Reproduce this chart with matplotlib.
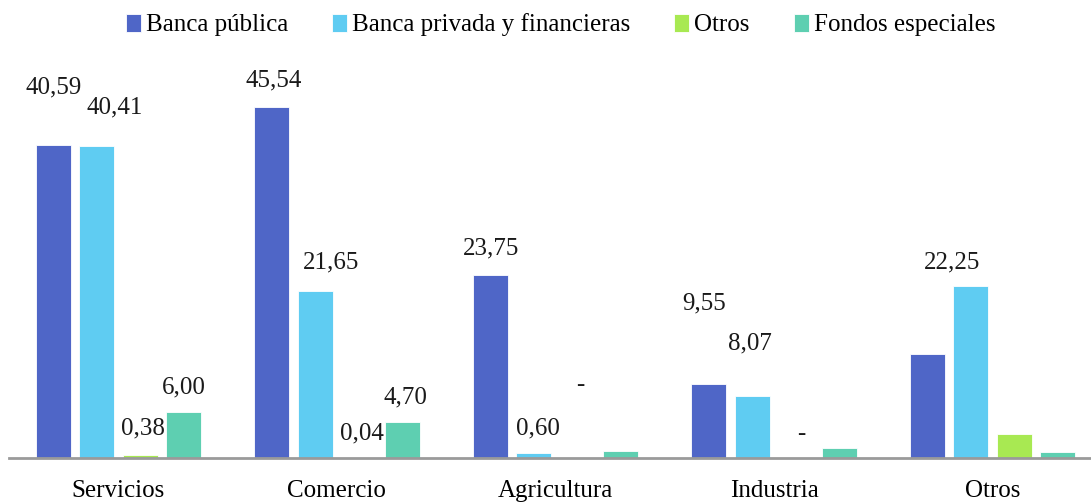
import matplotlib.pyplot as plt
import numpy as np

categories = ["Servicios", "Comercio", "Agricultura", "Industria", "Otros"]
series_names = ["Banca pública", "Banca privada y financieras", "Otros", "Fondos especiales"]

banca_publica = [40.59, 45.54, 23.75, 9.55, 13.5]
banca_privada = [40.41, 21.65, 0.60, 8.07, 22.25]
otros = [0.38, 0.04, 0.0, 0.0, 3.1]
fondos_especiales = [6.00, 4.70, 0.9, 1.3, 0.8]

labels_publica = ["40,59", "45,54", "23,75", "9,55", None]
labels_privada = ["40,41", "21,65", "0,60", "8,07", "22,25"]
labels_otros = ["0,38", "0,04", "-", "-", None]
labels_fondos = ["6,00", "4,70", None, None, None]

# label placement, as in the source: (x shift in px, height in data units)
place_publica = [(1, 48.1), (2, 49.0), (1, 27.2), (-5, 20.1), None]
place_privada = [(18, 45.5), (16, 25.3), (4, 3.8), (-2, 14.9), (-19, 25.4)]
place_otros = [(3, 3.8), (3, 3.2), (3, 9.5), (5, 3.1), None]
place_fondos = [(0, 9.2), (3, 7.9), None, None, None]

colors = ["#4F66C7", "#5FCCF2", "#A8E952", "#5ECFB1"]

plt.rcParams["font.family"] = ["Liberation Serif", "DejaVu Serif"]

fig = plt.figure(figsize=(10.91, 5.04), dpi=100)
ax = fig.add_axes([9 / 1091, 46 / 504, 1082 / 1091, 385.5 / 504])

x = np.arange(len(categories))
step = 0.199
width = 0.16
values = [banca_publica, banca_privada, otros, fondos_especiales]
labels = [labels_publica, labels_privada, labels_otros, labels_fondos]
places = [place_publica, place_privada, place_otros, place_fondos]

for i, (vals, name, color) in enumerate(zip(values, series_names, colors)):
    xs = x + (i - 1.5) * step
    ax.bar(xs, vals, width, color=color, label=name, edgecolor="white", linewidth=0.6)
    for xi, lab, pl in zip(xs, labels[i], places[i]):
        if lab is None:
            continue
        dx, y = pl
        ax.annotate(lab, (xi, y), xytext=(dx * 0.72, 0), textcoords="offset points",
                    ha="center", va="center", fontsize=18, color="#1a1a1a")

ax.set_xlim(-0.5, -0.5 + 1082 / 218.6)
ax.set_ylim(0, 50)
ax.set_xticks(x)
ax.set_xticklabels(categories, fontsize=18)
ax.tick_params(axis="x", length=0, pad=16)
ax.set_yticks([])
for side in ["top", "right", "left"]:
    ax.spines[side].set_visible(False)
ax.spines["bottom"].set_color("#9a9a9a")
ax.spines["bottom"].set_linewidth(2)

fig.legend(loc="upper center", bbox_to_anchor=(0.514, 1.018), ncol=4, frameon=False,
           fontsize=18, handlelength=0.6, handleheight=0.75, handletextpad=0.2,
           columnspacing=1.75)

fig.savefig("out.png", dpi=100)
